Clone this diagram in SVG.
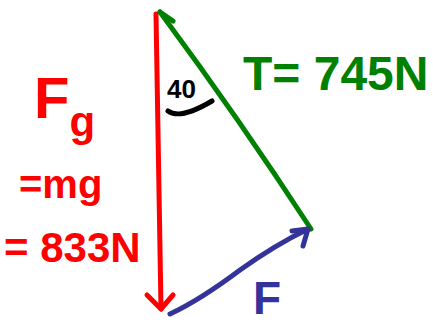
<svg xmlns="http://www.w3.org/2000/svg" width="433" height="329" viewBox="0 0 433 329">
<style>
.s{fill:none;stroke-width:5;stroke-linecap:round;stroke-linejoin:round}
.t{font-family:"Liberation Sans",Arial,sans-serif;font-weight:bold}
</style>
<rect width="433" height="329" fill="#fff"/>
<g id="connectors">
<g id="weight-vector" class="s" stroke="#f00">
<path d="M156,14 Q158,160 161,309"/>
<path d="M147,295 L161,309 L173,295"/>
</g>
<g id="tension-vector" class="s" stroke="#008000">
<path d="M311,229 Q240,120 160,12"/>
<path d="M160,12 L173,21"/>
</g>
<g id="force-vector" class="s" stroke="#333399">
<path d="M170,314 Q200,300 240,270 Q275,245 308,229"/>
<path d="M292,231 L308,229 L303,246"/>
</g>
<path id="angle-arc" class="s" stroke="#000" d="M168,111 Q180,120 212,101"/>
</g>
<g id="angle-label"><text class="t" x="167" y="98" font-size="26" fill="#000">40</text></g>
<g id="tension-label"><text class="t" x="243" y="90" font-size="48" fill="#008000">T= 745N</text></g>
<g id="weight-label" fill="#f00">
<text class="t" x="34" y="118" font-size="58">F<tspan font-size="42" dy="18">g</tspan></text>
<text class="t" x="19" y="198" font-size="40">=mg</text>
<text class="t" x="4" y="262" font-size="42">= 833N</text>
</g>
<g id="force-label"><text class="t" x="253" y="314" font-size="46" fill="#333399">F</text></g>
</svg>
